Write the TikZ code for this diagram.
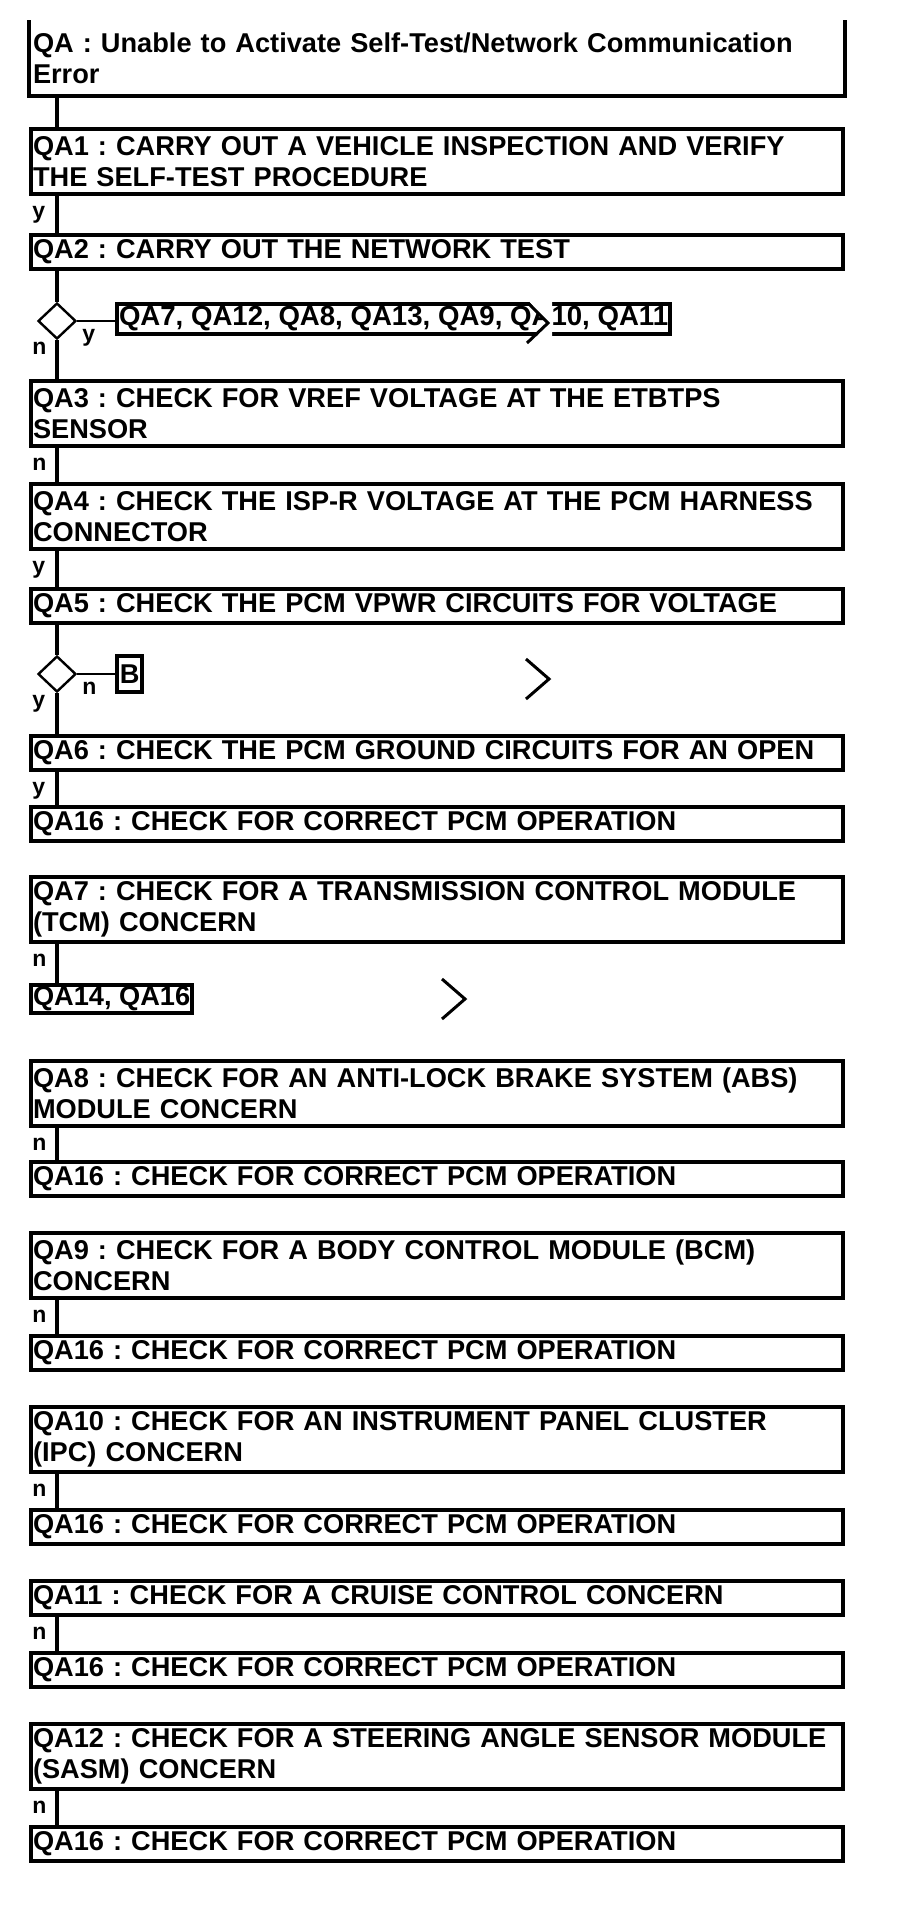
\documentclass[tikz,border=0pt]{standalone}
\usepackage{fontspec}
\setmainfont{Liberation Sans}
\usetikzlibrary{calc,shapes.geometric}
\frenchspacing
\hyphenpenalty=10000
\exhyphenpenalty=10000

\begin{document}
\begin{tikzpicture}[x=0.5pt, y=-0.5pt,
  box/.style={draw, line width=2pt, anchor=north west, inner xsep=1pt, inner ysep=0pt,
    align=left, font=\bfseries\fontsize{13.6}{15.3}\selectfont},
  wide/.style={box, text width=404pt, minimum height=17pt},
  wide2/.style={wide, minimum height=32.5pt},
  dec/.style={diamond, draw, line width=1.2pt, inner sep=0pt, minimum width=19pt, minimum height=18pt},
  flow/.style={line width=2pt},
  link/.style={line width=1pt},
  lbl/.style={anchor=base west, inner sep=0pt, font=\bfseries\fontsize{11.5}{12}\selectfont},
  brk/.style={line width=1.5pt}]
  \useasboundingbox (0,0) rectangle (896,1922);

  \node[wide2, draw=none, minimum height=36pt] (qa) at (29,20) {QA : Unable to Activate Self-Test/Network Communication\\Error};
  \draw[flow] (qa.north west) -- (qa.south west) -- (qa.south east) -- (qa.north east);

  \node[wide2] (qa1) at (29,127) {QA1 : CARRY OUT A VEHICLE INSPECTION AND VERIFY\\THE SELF-TEST PROCEDURE};
  \node[wide] (qa2) at (29,233) {QA2 : CARRY OUT THE NETWORK TEST};
  \node[dec] (d1) at (57,321) {};
  \node[box, minimum height=15pt, font=\bfseries\fontsize{13.8}{15.3}\selectfont] (mods) at (115,302) {QA7, QA12, QA8, QA13, QA9, QA10, QA11};
  \node[wide2] (qa3) at (29,379) {QA3 : CHECK FOR VREF VOLTAGE AT THE ETBTPS\\SENSOR};
  \node[wide2] (qa4) at (29,482) {QA4 : CHECK THE ISP-R VOLTAGE AT THE PCM HARNESS\\CONNECTOR};
  \node[wide] (qa5) at (29,587) {QA5 : CHECK THE PCM VPWR CIRCUITS FOR VOLTAGE};
  \node[dec] (d2) at (57,674) {};
  \node[box, anchor=west, line width=2.2pt, inner xsep=0pt, minimum width=12.5pt, minimum height=18pt] (b) at (115,674) {B};
  \node[wide] (qa6) at (29,734) {QA6 : CHECK THE PCM GROUND CIRCUITS FOR AN OPEN};
  \node[wide] (qa16a) at (29,805) {QA16 : CHECK FOR CORRECT PCM OPERATION};

  \node[wide2] (qa7) at (29,875) {QA7 : CHECK FOR A TRANSMISSION CONTROL MODULE\\(TCM) CONCERN};
  \node[box, minimum height=14pt] (qa14) at (29,983) {QA14, QA16};

  \node[wide2] (qa8) at (29,1059) {QA8 : CHECK FOR AN ANTI-LOCK BRAKE SYSTEM (ABS)\\MODULE CONCERN};
  \node[wide] (qa16b) at (29,1160) {QA16 : CHECK FOR CORRECT PCM OPERATION};

  \node[wide2] (qa9) at (29,1231) {QA9 : CHECK FOR A BODY CONTROL MODULE (BCM)\\CONCERN};
  \node[wide] (qa16c) at (29,1334) {QA16 : CHECK FOR CORRECT PCM OPERATION};

  \node[wide2] (qa10) at (29,1405) {QA10 : CHECK FOR AN INSTRUMENT PANEL CLUSTER\\(IPC) CONCERN};
  \node[wide] (qa16d) at (29,1508) {QA16 : CHECK FOR CORRECT PCM OPERATION};

  \node[wide] (qa11) at (29,1579) {QA11 : CHECK FOR A CRUISE CONTROL CONCERN};
  \node[wide] (qa16e) at (29,1651) {QA16 : CHECK FOR CORRECT PCM OPERATION};

  \node[wide2] (qa12) at (29,1722) {QA12 : CHECK FOR A STEERING ANGLE SENSOR MODULE\\(SASM) CONCERN};
  \node[wide] (qa16f) at (29,1825) {QA16 : CHECK FOR CORRECT PCM OPERATION};

  \draw[flow] (qa.south -| d1) -- (qa1.north -| d1);
  \draw[flow] (qa1.south -| d1) -- (qa2.north -| d1);
  \draw[flow] (qa2.south -| d1) -- (d1.north);
  \draw[flow] (d1.south) -- (qa3.north -| d1);
  \draw[link] (d1.east) -- (d1.east -| mods.west);
  \draw[flow] (qa3.south -| d1) -- (qa4.north -| d1);
  \draw[flow] (qa4.south -| d1) -- (qa5.north -| d1);
  \draw[flow] (qa5.south -| d1) -- (d2.north);
  \draw[link] (d2.east) -- (b.west);
  \draw[flow] (d2.south) -- (qa6.north -| d1);
  \draw[flow] (qa6.south -| d1) -- (qa16a.north -| d1);
  \draw[flow] (qa7.south -| d1) -- (qa14.north -| d1);
  \draw[flow] (qa8.south -| d1) -- (qa16b.north -| d1);
  \draw[flow] (qa9.south -| d1) -- (qa16c.north -| d1);
  \draw[flow] (qa10.south -| d1) -- (qa16d.north -| d1);
  \draw[flow] (qa11.south -| d1) -- (qa16e.north -| d1);
  \draw[flow] (qa12.south -| d1) -- (qa16f.north -| d1);

  \node[lbl] (l1) at ($(qa1.south west)+(3,22)$) {y};
  \node[lbl] (l2) at ($(d1.center)+(25,20)$) {y};
  \node[lbl] (l3) at ($(d1.center)+(-25,33)$) {n};
  \node[lbl] (l4) at ($(qa3.south west)+(3,22)$) {n};
  \node[lbl] (l5) at ($(qa4.south west)+(3,22)$) {y};
  \node[lbl] (l6) at ($(d2.center)+(25,20)$) {n};
  \node[lbl] (l7) at ($(d2.center)+(-25,33)$) {y};
  \node[lbl] (l8) at ($(qa6.south west)+(3,22)$) {y};
  \node[lbl] (l9) at ($(qa7.south west)+(3,22)$) {n};
  \node[lbl] (l10) at ($(qa8.south west)+(3,22)$) {n};
  \node[lbl] (l11) at ($(qa9.south west)+(3,22)$) {n};
  \node[lbl] (l12) at ($(qa10.south west)+(3,22)$) {n};
  \node[lbl] (l13) at ($(qa11.south west)+(3,22)$) {n};
  \node[lbl] (l14) at ($(qa12.south west)+(3,22)$) {n};

  \fill[white] (526,298) -- (548,323) -- (536,337) -- (552,337) -- (552,298) -- cycle;
  \draw[brk] (528,303) -- (548,323) -- (527,343);
  \draw[brk] (526,659) -- (549,679) -- (526,699);
  \draw[brk] (442,979) -- (465,999) -- (442,1019);
\end{tikzpicture}
\end{document}
